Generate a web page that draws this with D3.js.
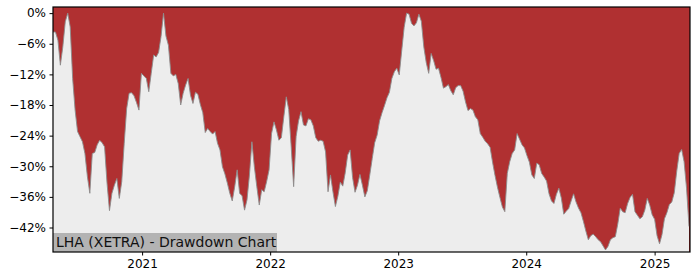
<!DOCTYPE html>
<html>
<head>
<meta charset="utf-8">
<script src="https://cdn.jsdelivr.net/npm/d3@7"></script>
<style>
  body { margin: 0; background: #fff; }
  svg { display: block; font-family: "DejaVu Sans", sans-serif; }
</style>
</head>
<body>
<div id="chart"></div>
<script>
// weekly drawdown of LHA (XETRA), in percent, first week starting 2020-04-22
const startDate = "2020-04-22"
const drawdown = [
    -3.7, -3.7, -5.3, -10.2, -6.6, -1.7, 0, -2.7, -12.8, -19.0,
    -23.2, -24.2, -25.2, -27.5, -32.0, -35.3, -27.5, -27.3, -25.8, -24.9,
    -25.4, -26.2, -33.3, -38.7, -35.3, -33.7, -32.4, -36.3, -33.0, -25.5,
    -18.7, -15.7, -15.6, -16.2, -17.5, -19.0, -11.8, -12.3, -12.8, -15.4,
    -11.8, -8.2, -8.6, -7.7, -4.6, 0, -4.5, -6.3, -11.8, -12.3,
    -12.0, -13.8, -18.0, -15.7, -14.1, -12.8, -16.1, -17.7, -15.5, -15.9,
    -17.9, -19.5, -23.4, -22.6, -23.2, -23.7, -23.2, -25.5, -26.8, -30.1,
    -31.5, -33.3, -35.3, -36.8, -34.0, -30.7, -35.3, -35.8, -38.6, -36.6,
    -31.7, -25.2, -30.1, -34.0, -37.6, -34.6, -35.0, -33.0, -30.7, -23.6,
    -21.3, -22.9, -24.9, -24.4, -20.3, -16.4, -18.9, -26.2, -34.0, -24.2,
    -21.1, -19.3, -21.9, -22.1, -20.7, -20.9, -22.1, -24.4, -25.1, -24.9,
    -25.1, -27.2, -35.0, -31.7, -35.0, -37.9, -35.9, -33.1, -33.9, -31.3,
    -27.8, -26.8, -32.2, -35.1, -33.7, -31.6, -33.7, -36.0, -34.8, -31.7,
    -28.5, -25.4, -23.9, -21.1, -19.5, -18.1, -16.6, -15.5, -12.8, -11.5,
    -10.8, -12.1, -7.4, -2.8, 0, -0.2, -2.0, -2.5, -1.9, -0.2,
    -1.6, -6.6, -9.7, -11.8, -7.9, -9.3, -11.0, -10.8, -12.6, -14.7,
    -14.4, -14.0, -15.2, -16.0, -14.6, -14.2, -14.2, -15.3, -17.4, -19.1,
    -18.7, -19.0, -20.3, -20.9, -23.6, -24.3, -25.1, -25.6, -26.3, -29.2,
    -31.8, -34.1, -36.1, -38.0, -38.9, -31.4, -29.1, -27.5, -26.8, -23.6,
    -24.7, -25.8, -26.4, -27.9, -29.2, -31.7, -32.4, -29.4, -29.7, -31.4,
    -32.1, -32.9, -35.4, -36.8, -37.3, -35.5, -34.3, -36.2, -39.4, -38.8,
    -38.3, -36.8, -35.4, -37.0, -38.2, -39.1, -40.8, -42.7, -44.4, -43.6,
    -43.3, -43.8, -44.4, -44.8, -45.6, -46.4, -45.7, -44.4, -44.0, -43.8,
    -41.3, -38.2, -38.9, -39.1, -37.3, -36.1, -35.5, -38.9, -39.6, -40.3,
    -39.9, -38.6, -36.3, -37.6, -39.5, -40.4, -43.6, -45.2, -43.4, -40.3,
    -39.1, -37.5, -37.0, -35.2, -31.0, -27.5, -26.7, -29.1, -34.3, -41.8
]
const yTicks = [0, -6, -12, -18, -24, -30, -36, -42]
const xTicks = ["2021", "2022", "2023", "2024", "2025"]
const title = "LHA (XETRA) - Drawdown Chart"

const W = 700, H = 280
const plotL = 53, plotR = 690, plotT = 7, plotB = 252

const parse = d3.timeParse("%Y-%m-%d")
const start = parse(startDate)
const data = drawdown.map((v, i) => ({date: d3.timeDay.offset(start, 7 * i), value: v}))

const x = d3.scaleTime()
    .domain(d3.extent(data, d => d.date))
    .range([plotL, plotR - 1])

const y = d3.scaleLinear()
    .domain([-46.8, 1.2])
    .range([plotB, plotT])

const svg = d3.select("#chart")
    .append("svg")
    .attr("width", W)
    .attr("height", H)

// red background for the whole plot
svg.append("rect")
    .attr("x", plotL)
    .attr("y", plotT)
    .attr("width", plotR - plotL)
    .attr("height", plotB - plotT)
    .attr("fill", "#b03031")

const area = d3.area()
    .x(d => x(d.date))
    .y0(plotB)
    .y1(d => y(d.value))

svg.append("path")
    .datum(data)
    .attr("d", area)
    .attr("fill", "#ededed")

svg.append("path")
    .datum(data)
    .attr("d", d3.line().x(d => x(d.date)).y(d => y(d.value)))
    .attr("fill", "none")
    .attr("stroke", "#8c8c8c")
    .attr("stroke-width", 0.9)

// label box
const label = svg.append("g")
label.append("rect")
    .attr("x", plotL)
    .attr("y", 233)
    .attr("width", 224)
    .attr("height", plotB - 233)
    .attr("fill", "#b3b3b3")
label.append("text")
    .attr("x", plotL + 3)
    .attr("y", 246.5)
    .style("font-size", "14px")
    .attr("fill", "#111")
    .text(title)

// frame
svg.append("rect")
    .attr("x", plotL)
    .attr("y", plotT)
    .attr("width", plotR - plotL)
    .attr("height", plotB - plotT)
    .attr("fill", "none")
    .attr("stroke", "#000")
    .attr("stroke-width", 1.2)

const yAxis = svg.append("g")
    .attr("transform", `translate(${plotL},0)`)
    .call(d3.axisLeft(y)
        .tickValues(yTicks)
        .tickSize(3.5)
        .tickPadding(3.5)
        .tickFormat(d => (d < 0 ? "\u2212" + (-d) : d) + "%"))
yAxis.select(".domain").remove()
yAxis.selectAll("text").style("font-size", "12px").attr("fill", "#000").attr("font-family", "DejaVu Sans")
yAxis.selectAll("line").attr("stroke", "#000")

const xAxis = svg.append("g")
    .attr("transform", `translate(0,${plotB})`)
    .call(d3.axisBottom(x)
        .tickValues(xTicks.map(t => parse(t + "-01-01")))
        .tickSize(3.5)
        .tickPadding(4)
        .tickFormat(d3.timeFormat("%Y")))
xAxis.select(".domain").remove()
xAxis.selectAll("text").style("font-size", "12px").attr("fill", "#000").attr("font-family", "DejaVu Sans")
xAxis.selectAll("line").attr("stroke", "#000")
</script>
</body>
</html>
